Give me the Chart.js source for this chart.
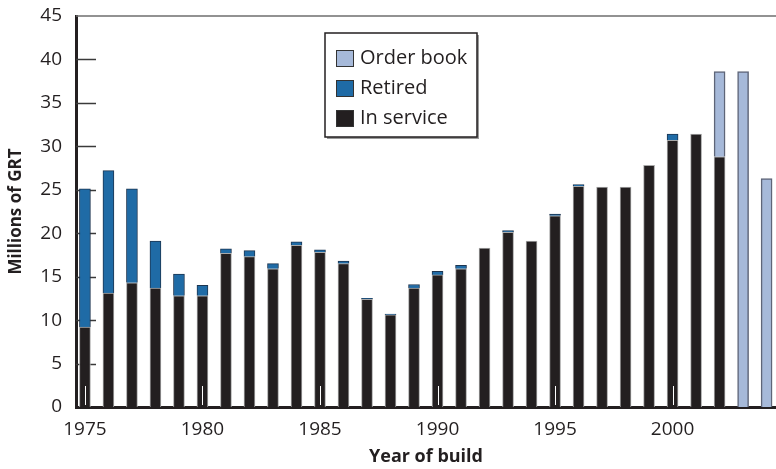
<!DOCTYPE html>
<html>
<head>
<meta charset="utf-8">
<script src="https://cdn.jsdelivr.net/npm/chart.js@4.4.1/dist/chart.umd.min.js"></script>
<style>
  body { margin: 0; background: #fff; }
  #wrap { width: 776px; height: 469px; }
</style>
</head>
<body>
<div id="wrap"><canvas id="myChart" width="776" height="469"></canvas></div>
<script>
const years = [
  1975, 1976, 1977, 1978, 1979, 1980, 1981, 1982, 1983, 1984,
  1985, 1986, 1987, 1988, 1989, 1990, 1991, 1992, 1993, 1994,
  1995, 1996, 1997, 1998, 1999, 2000, 2001, 2002, 2003, 2004
];

// millions of GRT
const inService = [
  9.2, 13.1, 14.3, 13.7, 12.8, 12.8, 17.7, 17.3, 15.9, 18.6,
  17.8, 16.5, 12.4, 10.6, 13.7, 15.2, 15.9, 18.3, 20.1, 19.1,
  22.0, 25.4, 25.3, 25.3, 27.8, 30.7, 31.4, 28.8, null, null
];
const retired = [
  15.9, 14.1, 10.8, 5.4, 2.5, 1.2, 0.5, 0.7, 0.6, 0.4,
  0.3, 0.3, 0.1, 0.1, 0.4, 0.4, 0.4, null, 0.2, null,
  0.2, 0.2, null, null, null, 0.7, null, null, null, null
];
const orderBook = [
  null, null, null, null, null, null, null, null, null, null,
  null, null, null, null, null, null, null, null, null, null,
  null, null, null, null, null, null, null, 9.8, 38.6, 26.3
];

const xTicks = [1975, 1980, 1985, 1990, 1995, 2000];
const yTicks = [0, 5, 10, 15, 20, 25, 30, 35, 40, 45];

const ink = "#231f20";
const font = "'Open Sans', 'Noto Sans', sans-serif";

function points(values) {
  return years.map((yr, i) => ({ x: yr, y: values[i] }));
}

// short tick marks inside the plot, top frame line, white year marks, legend box
const axisMarks = {
  id: "axisMarks",
  beforeDatasetsDraw(chart) {
    const { ctx, chartArea, scales } = chart;
    ctx.save();
    ctx.strokeStyle = "#3a3a3a";
    ctx.lineWidth = 1.5;
    yTicks.forEach(v => {
      if (v === 0 || v === 45) return;
      const y = Math.round(scales.y.getPixelForValue(v)) + 0.5;
      ctx.beginPath();
      ctx.moveTo(chartArea.left, y);
      ctx.lineTo(chartArea.left + 20, y);
      ctx.stroke();
    });
    ctx.strokeStyle = "#6e6e6e";
    ctx.lineWidth = 1.5;
    ctx.beginPath();
    ctx.moveTo(chartArea.left, chartArea.top);
    ctx.lineTo(chartArea.right, chartArea.top);
    ctx.stroke();
    ctx.restore();
  },
  afterDatasetsDraw(chart) {
    const { ctx, chartArea, scales } = chart;
    ctx.save();
    ctx.strokeStyle = "#ffffff";
    ctx.lineWidth = 1;
    xTicks.forEach(v => {
      const x = Math.round(scales.x.getPixelForValue(v)) + 0.5;
      ctx.beginPath();
      ctx.moveTo(x, chartArea.bottom - 2);
      ctx.lineTo(x, chartArea.bottom - 21);
      ctx.stroke();
    });
    ctx.restore();
  },
  afterDraw(chart) {
    const { ctx } = chart;
    const items = chart.data.datasets.slice().reverse();
    ctx.save();
    ctx.fillStyle = "#9a9a9a";
    ctx.fillRect(327, 35, 152, 104);
    ctx.fillStyle = "#fff";
    ctx.fillRect(325, 33, 152, 104);
    ctx.strokeStyle = ink;
    ctx.lineWidth = 1.5;
    ctx.strokeRect(325, 33, 152, 104);
    ctx.font = "20px " + font;
    ctx.textBaseline = "middle";
    items.forEach((ds, i) => {
      const cy = 58.5 + i * 30;
      ctx.fillStyle = ds.backgroundColor;
      ctx.fillRect(336, cy - 8.5, 18, 17);
      ctx.strokeStyle = "#333";
      ctx.lineWidth = 1;
      ctx.strokeRect(336.5, cy - 8, 17, 16);
      ctx.fillStyle = ink;
      ctx.fillText(ds.label, 360, cy);
    });
    ctx.restore();
  }
};

const data = {
  datasets: [
    {
      label: "In service",
      data: points(inService),
      backgroundColor: ink,
      borderColor: "#a8a8a8",
      borderWidth: 1,
      borderSkipped: "bottom"
    },
    {
      label: "Retired",
      data: points(retired),
      backgroundColor: "#1f6ba6",
      borderColor: "#1d3550",
      borderWidth: 1,
      borderSkipped: "bottom"
    },
    {
      label: "Order book",
      data: points(orderBook),
      backgroundColor: "#a6b9d9",
      borderColor: "#5e6578",
      borderWidth: 1.5,
      borderSkipped: "bottom"
    }
  ]
};

const config = {
  type: "bar",
  data: data,
  options: {
    responsive: false,
    animation: false,
    layout: { padding: { top: 16, right: 0, left: 0, bottom: 0 } },
    datasets: { bar: { barThickness: 11 } },
    plugins: {
      legend: { display: false },
      tooltip: { enabled: false }
    },
    scales: {
      x: {
        type: "linear",
        stacked: true,
        offset: false,
        min: 1974.62,
        max: 2004.4,
        afterFit: s => {
          s.height = 62;
          s.paddingLeft = 0;
          s.paddingRight = 0;
        },
        afterBuildTicks: s => { s.ticks = xTicks.map(v => ({ value: v })); },
        grid: { display: false, drawTicks: false },
        border: { display: true, color: ink, width: 3 },
        ticks: {
          autoSkip: false,
          maxRotation: 0,
          padding: 11,
          color: ink,
          font: { family: font, size: 19 },
          callback: v => String(v)
        },
        title: {
          display: true,
          text: "Year of build",
          color: ink,
          font: { family: font, size: 18, weight: "bold" },
          padding: { top: 0, bottom: 1 }
        }
      },
      y: {
        stacked: true,
        min: 0,
        max: 45,
        afterFit: s => {
          s.width = 76;
          s.paddingTop = 0;
          s.paddingBottom = 0;
        },
        afterBuildTicks: s => { s.ticks = yTicks.map(v => ({ value: v })); },
        grid: { display: false, drawTicks: false },
        border: { display: true, color: ink, width: 3 },
        ticks: {
          padding: 14,
          color: ink,
          font: { family: font, size: 19 }
        },
        title: {
          display: true,
          text: "Millions of GRT",
          color: ink,
          font: { family: font, size: 17, weight: "bold" },
          padding: { top: 6, bottom: 0 }
        }
      }
    }
  },
  plugins: [axisMarks]
};

const ctx = document.getElementById("myChart").getContext("2d");
new Chart(ctx, config);
</script>
</body>
</html>
